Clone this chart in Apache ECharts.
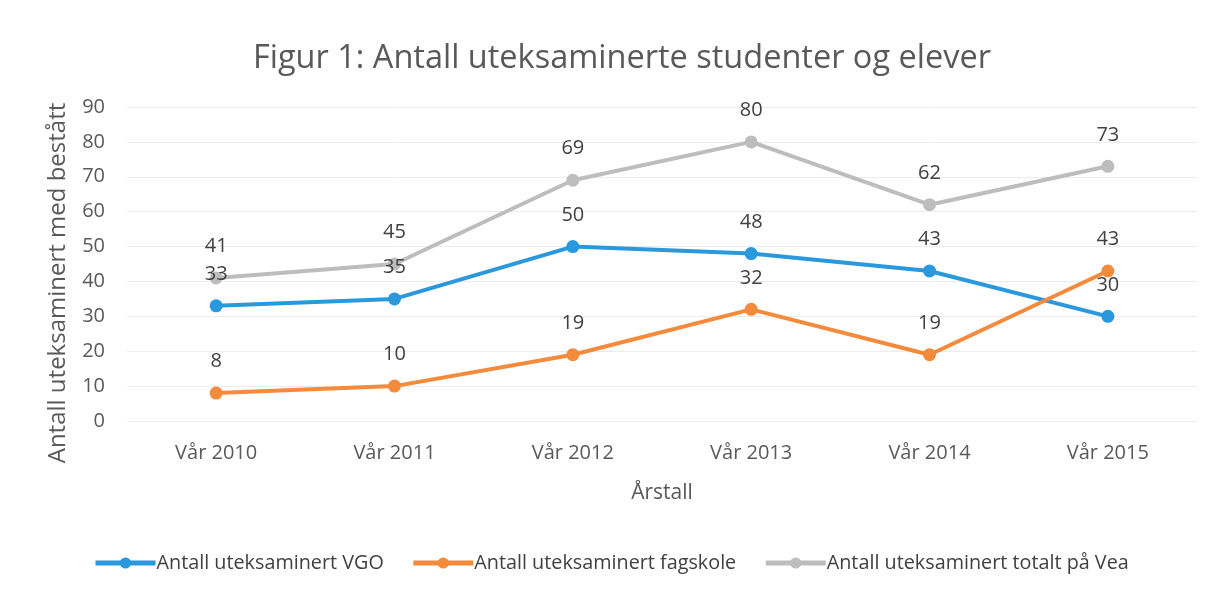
<!DOCTYPE html>
<html><head><meta charset="utf-8">
<script src="https://cdn.jsdelivr.net/npm/echarts@6/dist/echarts.min.js"></script>
<style>html,body{margin:0;padding:0;background:#fff}#c{width:1214px;height:596px}</style>
</head><body><div id="c"></div>
<script>
const categories = ['Vår 2010','Vår 2011','Vår 2012','Vår 2013','Vår 2014','Vår 2015'];
const vgo = [33, 35, 50, 48, 43, 30];
const fagskole = [8, 10, 19, 32, 19, 43];
const totalt = [41, 45, 69, 80, 62, 73];
const seriesNames = ['Antall uteksaminert VGO','Antall uteksaminert fagskole','Antall uteksaminert totalt på Vea'];
const yAxisTitle = 'Antall uteksaminert med bestått';
const colors = ['#2a98dc','#f48a3c','#bdbdbd'];
const FONT = 'Open Sans';
const chart = echarts.init(document.getElementById('c'));
function mk(name, data, color){
  return {name, type:'line', data, color, symbol:'circle', symbolSize:13,
    lineStyle:{width:4,color}, itemStyle:{color},
    label:{show:true, position:'top', distance:15, color:'#404040', fontSize:20, fontFamily:FONT}};
}
chart.setOption({
  animation:false,
  textStyle:{fontFamily:FONT},
  title:{text:'Figur 1: Antall uteksaminerte studenter og elever', left:248, top:37,
    textStyle:{fontSize:32.5, fontWeight:'normal', color:'#595959', fontFamily:FONT}},
  grid:{left:127, right:17, top:107, bottom:175},
  legend:{bottom:18, left:88, itemWidth:60, itemHeight:14, itemGap:27,
    lineStyle:{width:5},
    textStyle:{fontSize:19.8, color:'#404040', fontFamily:FONT, padding:[0,0,0,-4]}},
  graphic:[{type:'text', x:58, y:283, rotation:Math.PI/2,
    style:{text:yAxisTitle, font:'24px "Open Sans"', fill:'#595959', align:'center', verticalAlign:'middle'}}],
  xAxis:{type:'category', data:categories, boundaryGap:true,
    name:'Årstall', nameLocation:'middle', nameGap:62,
    nameTextStyle:{fontSize:21, color:'#595959', fontFamily:FONT},
    axisLine:{show:false}, axisTick:{show:false},
    axisLabel:{fontSize:20, color:'#595959', margin:22, fontFamily:FONT}},
  yAxis:{type:'value', min:0, max:90, interval:10,
    axisLabel:{fontSize:20, color:'#595959', margin:22, fontFamily:FONT},
    splitLine:{lineStyle:{color:'#ececec', width:1}}},
  series:[mk(seriesNames[0], vgo, colors[0]), mk(seriesNames[1], fagskole, colors[1]), mk(seriesNames[2], totalt, colors[2])]
});
</script></body></html>
